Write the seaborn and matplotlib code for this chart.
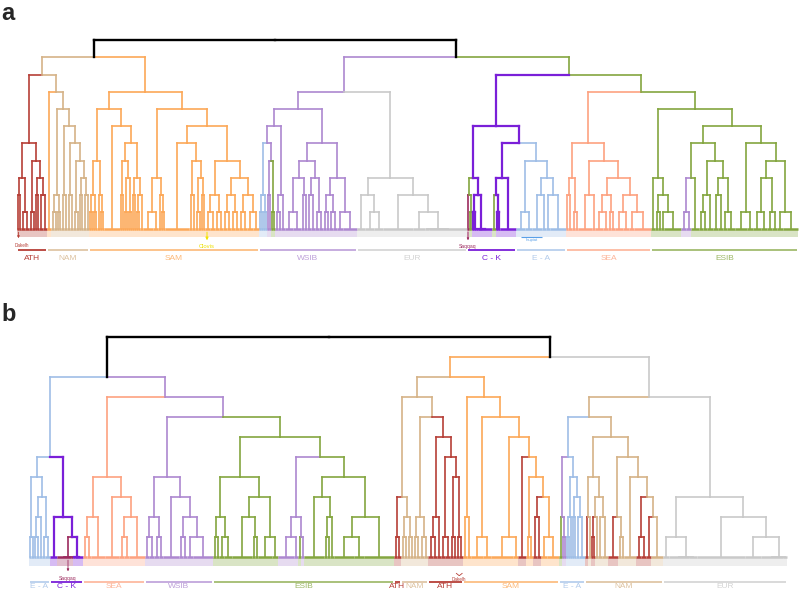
import matplotlib
matplotlib.use("Agg")
import matplotlib.pyplot as plt
import seaborn as sns

sns.set_theme(style="white", context="paper")
plt.rcParams['font.family'] = ['Liberation Sans', 'DejaVu Sans']

colours = {"ATH": "#b63f37", "NAM": "#d5b388", "SAM": "#fca858", "WSIB": "#ad88d0",
           "EUR": "#c9c9c9", "CK": "#7a1fd8", "EA": "#9fbee6", "SEA": "#fda280",
           "ESIB": "#84a640", "SAQ": "#9c2b5e", "CLO": "#f2e300", "ROOT": "black"}
names = {"ATH": "ATH", "NAM": "NAM", "SAM": "SAM", "WSIB": "WSIB", "EUR": "EUR",
         "CK": "C - K", "EA": "E - A", "SEA": "SEA", "ESIB": "ESIB"}

# trees: [group?, height, child, child, ...]; a bare number is a leaf cluster (its width)
# ---- panel a ----
a_dak = [2, 2, 2]
a_ath = ["ATH", 5, [3, a_dak, [1, 4, 4]], [4, [1, 3, 3], [3, [2, 2, 2], [2, 4, 4]]]]
a_nam = ["NAM", 8, ["SAM", 4],
         [7, [2, [1, 3, 3], [1, 2, 2]],
          [6, [2, 3, 3], [5, [2, 3, 3], [4, [1, 3, 3], [3, [2, 2, 2], [2, 3, 3]]]]]]]
a_sam_l = [7, [4, [2, [1, 2, 2], [1, 2, 2]], [2, 3, [1, 2, 2]]],
           [6, 16, [5, [4, [2, 2, 2], [3, [1, 2, 2], [1, 2, 2]]],
                    [3, [2, 2, 2], [2, [1, 2, 2], 3]]]]]
a_clovis = [1, 5, 5]
a_sam_r = [7, [3, [1, 10, 5], [2, 3, [1, 2, 2]]],
           [6, [5, 24, [4, [2, 3, 3], [3, [1, 3, 3], [2, 2, 2]]]],
            [4, [2, a_clovis, [1, 4, 4]],
             [3, [2, [1, 4, 4], [1, 4, 4]], [2, [1, 4, 4], [1, 6, 6]]]]]]
a_sam = ["SAM", 8, a_sam_l, a_sam_r]
a_wsib = ["WSIB", 7,
          [6, [5, ["EA", 2, [1, 2, 2], [1, 2, 2]], [4, [2, 2, 2], ["ESIB", 1, 2, 2]]],
           [2, [1, 3, 3], 4]],
          [5, [4, [3, [1, 8, 8], [2, 3, 3]], [3, [2, 4, 4], [1, 4, 4]]],
           [3, [2, [1, 3, 3], [1, 4, 4]], [1, 6, 14]]]]
a_eur = ["EUR", 3, [2, 8, [1, 9, 9]], [2, 30, [1, 12, [0, 4, 38]]]]
a_saq = ["SAQ", 2]
a_ck1 = [3, ["ESIB", 2, a_saq, [1, 1.5, 1.5]], [2, [1, 2, 2], [0, 2, 14]]]
a_ck2 = [3, [2, ["ESIB", 4], [1, 2, 2]], 16]
a_inu = [1, 9, 7]
a_ea = ["EA", 4, a_inu, [3, [2, 10, 4], [2, 4, 16]]]
a_ck = ["CK", 6, a_ck1, [5, a_ck2, a_ea]]
a_sea = ["SEA", 5, [3, [2, 2, 4], [1, 3, 3]],
         [4, [2, 14, 3], [3, [2, [1, 8, 5], [1, 3, 4]], [2, [1, 8, 6], [1, 5, 17]]]]]
a_esib = ["ESIB", 7, [3, 4, [2, [1, 3, 3], [1, 3, 17]]],
          [6, [5, [3, ["WSIB", 1, 5, 5], 8],
               [4, [2, [1, 4, 4], 6], [3, [2, 5, 5], [1, 4, 8]]]],
           [5, [1, 12, 6], [4, [3, [1, 8, 6], [1, 5, 5]], [1, 6, 15]]]]]
tree_a = ["ROOT", 11, ["NAM", 10, ["NAM", 9, a_ath, a_nam], a_sam],
          ["WSIB", 10, ["WSIB", 8, a_wsib, a_eur],
           ["ESIB", 9, a_ck, ["ESIB", 8, a_sea, a_esib]]]]
groups_a = [("ATH", [a_ath]), ("NAM", [a_nam]), ("SAM", [a_sam]), ("WSIB", [a_wsib]),
            ("EUR", [a_eur]), ("CK", [a_ck1, a_ck2]), ("EA", [a_ea]), ("SEA", [a_sea]),
            ("ESIB", [a_esib])]

# ---- panel b ----
b_ea1 = [4, [1, 2, 3], [3, [2, [1, 2, 3], 3], [1, 3, 5]]]
b_saq = ["SAQ", 0, 14, 2]
b_ck = ["CK", 2, 7, [1, b_saq, [0, 2, 8]]]
b_sea = ["SEA", 4, [2, [1, 4, 4], 14], [3, 14, [2, [1, 5, 5], 16]]]
b_wsib = ["WSIB", 4, [2, [1, 4, 5], [1, 5, 4]], [3, 16, [2, [1, 4, 4], [1, 6, 20]]]]
b_esib = ["ESIB", 6, [4, [2, [1, 3, 3], [1, 5, 8]], [3, [2, 20, [1, 3, 3]], [1, 14, 6]]],
          [5, ["WSIB", 2, [1, 16, 4], [1, ["ESIB", 3], 3]],
           [4, [3, 20, [2, [1, 3, 3], 4]], [2, [1, 20, 10], 30]]]]
left_b = ["EA", 9, ["EA", 5, b_ea1, b_ck], ["WSIB", 8, b_sea, ["WSIB", 7, b_wsib, b_esib]]]
b_ath1 = ["ATH", 1, 3, 4]
b_nam1a = [2, [1, 3, 3], [1, 3, 3]]
b_nam1b = [2, [1, 3, 4], [1, 4, 4]]
b_dak = [1, 3, 4]
b_ath2 = ["ATH", 6, [2, [1, 5, 4], 4], [5, [1, 4, 5], [4, [1, 3, 3], b_dak]]]
b_nam = ["NAM", 8, [3, b_ath1, b_nam1a], [7, b_nam1b, b_ath2]]
b_sam = ["SAM", 8, [2, 4, 4],
         [7, [1, 12, 8], [6, [1, 22, 5],
                          [5, ["ATH", 8], [4, [1, 3, 4], [3, ["ATH", 2, 4, 4], [1, 6, 12]]]]]]]
b_ea2 = ["EA", 5, ["WSIB", 2, ["ESIB", 3], [1, 2, 2]],
         [4, [2, [1, 2, 2], 2], [3, [2, 2, 2], [2, 3, 6]]]]
b_nam2 = ["NAM", 6, [4, [2, ["ATH", 3], 3], [3, [2, ["ATH", 1, 2, 2], 3], [2, 4, 6]]],
          [5, [2, ["ATH", 10], [1, 3, 3]],
           [4, 12, [3, ["ATH", 1, 5, 5], [2, ["ATH", 5], 12]]]]]
b_eur = ["EUR", 3, [1, 6, [0, 20, 8]], [2, 48, [1, 16, [0, 22, 4]]]]
right_b = ["SAM", 10, ["SAM", 9, b_nam, b_sam], ["EUR", 8, ["NAM", 7, b_ea2, b_nam2], b_eur]]
tree_b = ["ROOT", 11, left_b, right_b]
groups_b = [("EA", [b_ea1]), ("CK", [b_ck]), ("SEA", [b_sea]), ("WSIB", [b_wsib]),
            ("ESIB", [b_esib]), ("ATH", [b_ath1]), ("NAM", [b_nam1a, b_nam1b]),
            ("ATH", [b_ath2]), ("SAM", [b_sam]), ("EA", [b_ea2]), ("NAM", [b_nam2]),
            ("EUR", [b_eur])]


def build(node, code, start, index):
    if isinstance(node, list) and isinstance(node[0], str):
        code, body = node[0], node[1:]
    else:
        body = node if isinstance(node, list) else [node]
    if len(body) == 1:
        w = body[0]
        rec = {"x": start + w / 2, "h": 0, "code": code, "lo": start, "hi": start + w, "kids": []}
    else:
        kids, pos = [], start
        for child in body[1:]:
            r = build(child, code, pos, index)
            kids.append(r)
            pos = r["hi"]
        rec = {"x": (kids[0]["x"] + kids[-1]["x"]) / 2, "h": body[0], "code": code,
               "lo": start, "hi": pos, "kids": kids}
    if isinstance(node, list):
        index[id(node)] = rec
    return rec


def draw(ax, rec, leaves, root=False):
    for k in rec["kids"]:
        col = "black" if root else colours[k["code"]]
        lw = 1.7 if root else (1.6 if k["code"] == "CK" else 1.2)
        z = 4 if root else (3 if k["code"] == "CK" else 2)
        ax.vlines(k["x"], k["h"], rec["h"], colors=col, lw=lw, capstyle="projecting", zorder=z)
        ax.hlines(rec["h"], min(k["x"], rec["x"]), max(k["x"], rec["x"]), colors=col, lw=lw,
                  capstyle="projecting", zorder=z)
        draw(ax, k, leaves)
    if not rec["kids"]:
        leaves.append(rec)


def panel(ax, tree, groups, start, line_y, text_y):
    index = {}
    root = build(tree, "ROOT", start, index)
    leaves = []
    draw(ax, root, leaves, root=True)
    for lf in leaves:
        ax.hlines(0, lf["lo"], lf["hi"], colors=colours[lf["code"]], lw=1.8, zorder=2)
    ax.bar([lf["lo"] for lf in leaves], [-0.4] * len(leaves), bottom=-0.05,
           width=[lf["hi"] - lf["lo"] for lf in leaves], align="edge",
           color=[colours[lf["code"]] for lf in leaves], alpha=0.3, linewidth=0)
    for code, parts in groups:
        lo = min(index[id(p)]["lo"] for p in parts) + 1
        hi = max(index[id(p)]["hi"] for p in parts) - 1
        strong = code in ("ATH", "CK")
        ax.hlines(line_y, lo, hi, colors=colours[code], lw=1.3, alpha=1 if strong else 0.75)
        ax.text((lo + hi) / 2, text_y, names[code], ha="center", va="center", fontsize=6,
                color=colours[code], alpha=1 if strong else 0.8)
    ax.set_xlim(0, 800)
    ax.axis("off")
    return index


fig = plt.figure(figsize=(8, 5.9), dpi=100)
ax_a = fig.add_axes([0, 1 - 270 / 590, 1, 250 / 590])
ax_a.set_ylim(-2.366, 12.169)
idx_a = panel(ax_a, tree_a, groups_a, 17, -1.22, -1.69)

ax_b = fig.add_axes([0, 0, 1, 290 / 590])
ax_b.set_ylim(-1.635, 12.865)
idx_b = panel(ax_b, tree_b, groups_b, 29, -1.22, -1.485)

# annotations, panel a
x = idx_a[id(a_dak)]["lo"] + 1.5
ax_a.annotate("", xy=(x, -0.68), xytext=(x, 0),
              arrowprops=dict(arrowstyle="-|>", lw=0.6, color=colours["ATH"], mutation_scale=3))
ax_a.text(x + 3, -0.94, "Dakelh", fontsize=3.3, color=colours["ATH"], ha="center", va="center")
x = idx_a[id(a_clovis)]["x"] - 3
ax_a.annotate("", xy=(x, -0.8), xytext=(x, 0),
              arrowprops=dict(arrowstyle="-|>", lw=0.7, color=colours["CLO"], mutation_scale=4))
ax_a.text(x, -1.0, "Clovis", fontsize=4.2, color="#ece000", ha="center", va="center")
x = idx_a[id(a_saq)]["x"]
ax_a.annotate("", xy=(x, -0.8), xytext=(x, 0),
              arrowprops=dict(arrowstyle="-|>", lw=0.6, color=colours["SAQ"], mutation_scale=3))
ax_a.text(x, -0.98, "Saqqaq", fontsize=3.6, color=colours["SAQ"], ha="center", va="center")
r = idx_a[id(a_inu)]
ax_a.hlines(-0.45, r["lo"] + 5, r["hi"] + 10, colors="#5aa0e8", lw=0.8)
ax_a.text((r["lo"] + r["hi"]) / 2 + 8, -0.63, "Inupiat", fontsize=3, color="#5aa0e8",
          ha="center", va="center")

# annotations, panel b
x = idx_b[id(b_saq)]["x"]
ax_b.annotate("", xy=(x, -0.84), xytext=(x, 0),
              arrowprops=dict(arrowstyle="-|>", lw=0.6, color=colours["SAQ"], mutation_scale=3))
ax_b.text(x, -1.04, "Saqqaq", fontsize=3.6, color=colours["SAQ"], ha="center", va="center")
x = idx_b[id(b_dak)]["x"]
ax_b.plot([x - 3, x, x + 3], [-0.8, -0.92, -0.8], color=colours["ATH"], lw=0.6)
ax_b.text(x, -1.1, "Dakelh", fontsize=3.3, color=colours["ATH"], ha="center", va="center")

fig.text(0.002, 0.997, "a", fontsize=17, fontweight="bold", ha="left", va="top")
fig.text(0.002, 0.487, "b", fontsize=17, fontweight="bold", ha="left", va="top")

fig.savefig("out.png", dpi=100)
